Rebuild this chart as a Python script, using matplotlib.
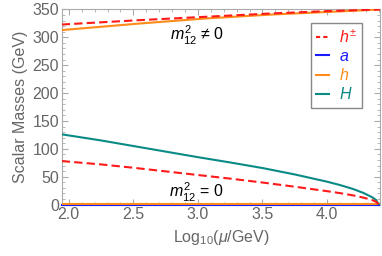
import matplotlib.pyplot as plt
from matplotlib.ticker import MultipleLocator
from matplotlib.lines import Line2D

plt.rcParams['font.family'] = ['Liberation Sans', 'DejaVu Sans']
plt.rcParams['mathtext.fontset'] = 'custom'
plt.rcParams['mathtext.rm'] = 'Liberation Sans'
plt.rcParams['mathtext.it'] = 'Liberation Sans:italic'

# m12^2 != 0 branch (upper curves)
x_up = [1.945, 2.56, 3.07, 3.58, 4.0, 4.41]
hpm_up = [323, 331, 337, 343, 347, 350]
h_up = [313, 325, 334, 341, 345.5, 350]

# m12^2 = 0 branch (lower curves)
x_lo = [1.945, 2.25, 2.5, 2.75, 3.0, 3.25, 3.5, 3.75, 4.0, 4.1, 4.2, 4.28, 4.35, 4.38, 4.40]
H_lo = [126, 115, 105, 95, 85, 75.5, 65.5, 54, 41, 35, 28, 21, 13, 8, 0]
hpm_lo = [78, 72, 66, 59.5, 53, 46.5, 39.5, 32, 24, 20.5, 16.5, 12.5, 8, 5, 0]
a_lo = [0] * len(x_lo)
h_lo = [1.5] * len(x_lo)

c_red = '#ff1a1a'
c_blue = '#1a1aff'
c_orange = '#ff8c1a'
c_teal = '#0a8a85'
grey = '#666666'

fig = plt.figure(figsize=(3.82, 2.56), dpi=100)
ax = fig.add_axes([0.1615, 0.201, 0.8333, 0.762])

lw = 1.5
ax.plot(x_lo, a_lo, color=c_blue, lw=lw, clip_on=False, zorder=3)
ax.plot(x_lo, h_lo, color=c_orange, lw=lw, zorder=3)
ax.plot(x_lo, H_lo, color=c_teal, lw=lw, zorder=3)
ax.plot(x_lo, hpm_lo, color=c_red, lw=lw, dashes=(4, 2), zorder=3)
ax.plot(x_up, h_up, color=c_orange, lw=lw, zorder=3)
ax.plot(x_up, hpm_up, color=c_red, lw=lw, dashes=(4, 2), zorder=3)

ax.set_xlim(1.945, 4.41)
ax.set_ylim(0, 350)
ax.xaxis.set_minor_locator(MultipleLocator(0.1))
ax.yaxis.set_major_locator(MultipleLocator(50))
ax.yaxis.set_minor_locator(MultipleLocator(10))
ax.set_xticks([2.0, 2.5, 3.0, 3.5, 4.0])
ax.set_xticklabels(['2.0', '2.5', '3.0', '3.5', '4.0'])
ax.tick_params(which='both', direction='in', top=True, right=True, color='#aaaaaa',
               labelcolor=grey, labelsize=11.5, pad=2)
ax.tick_params(which='major', length=4, width=0.8)
ax.tick_params(which='minor', length=2, width=0.6)
for s in ax.spines.values():
    s.set_color('#aaaaaa')
    s.set_linewidth(0.8)

ax.set_xlabel(r'Log$_{10}$($\mu$/GeV)', color=grey, fontsize=11.5, labelpad=4)
ax.set_ylabel('Scalar Masses (GeV)', color=grey, fontsize=11.5, labelpad=3)

ax.text(2.99, 303, r'$m_{12}^2$ ≠ 0', fontsize=11.5, ha='center', va='center', color='black')
ax.text(2.99, 21, r'$m_{12}^2$ = 0', fontsize=11.5, ha='center', va='center', color='black')

handles = [Line2D([], [], color=c_red, lw=lw, dashes=(2, 1.5)),
           Line2D([], [], color=c_blue, lw=lw),
           Line2D([], [], color=c_orange, lw=lw),
           Line2D([], [], color=c_teal, lw=lw)]
labels = [r'$h^{\pm}$', r'$a$', r'$h$', r'$H$']
leg = ax.legend(handles, labels, loc='upper right', bbox_to_anchor=(0.943, 0.931),
                borderaxespad=0, fontsize=11.5, handlelength=0.8, handletextpad=0.6,
                labelspacing=0.2, borderpad=0.35, fancybox=False, framealpha=1,
                edgecolor='#888888')
for t, c in zip(leg.get_texts(), [c_red, c_blue, c_orange, c_teal]):
    t.set_color(c)

fig.savefig('out.png', dpi=100)
